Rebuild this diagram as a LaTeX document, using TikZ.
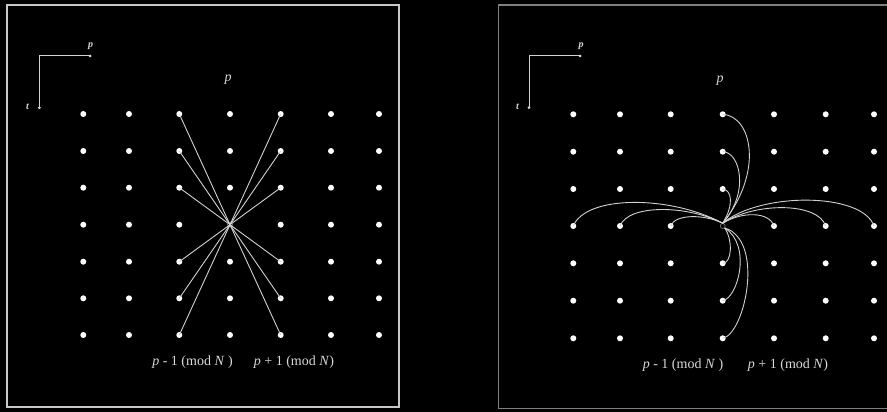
\documentclass[tikz,border=0pt]{standalone}
\usepackage{fontspec}
\setmainfont{Liberation Serif}
\begin{document}
\begin{tikzpicture}[x=1pt,y=-1pt,
  dot/.style={circle,fill=white,inner sep=0pt,minimum size=6pt},
  ctr/.style={circle,draw=gray,fill=black,inner sep=0pt,minimum size=5pt,line width=0.6pt},
  tipdot/.style={circle,fill=white!85!black,inner sep=0pt,minimum size=3pt},
  ray/.style={draw=white!82!black,line width=0.9pt},
  axis/.style={draw=white!82!black,line width=1pt},
  lab/.style={text=white!85!black,font=\fontsize{14}{16}\selectfont,inner sep=0pt},
  axlab/.style={text=white!85!black,font=\fontsize{10}{12}\selectfont\bfseries\itshape,inner sep=0pt}]
\useasboundingbox (0,0) rectangle (887,412);
\fill[black] (0,0) rectangle (887,412);
% panel frames
\draw[draw=white!78!black,line width=1.6pt] (7,5) rectangle (399,407);
\draw[draw=white!50!black,line width=1.6pt] (890,5) -- (498.3,5) -- (498.3,408.5) -- (890,408.5);
% ---------- left panel ----------
\foreach \x [count=\i] in {83.3,129,179.3,230,280.7,331,379}{
  \foreach \y [count=\j] in {114,151,187.7,224.7,261.7,298.3,335}{
    \ifnum\i\j=44
      \node[ctr] (L-\i-\j) at (\x,\y) {};
    \else
      \node[dot] (L-\i-\j) at (\x,\y) {};
    \fi
  }
}
\foreach \j in {1,2,3,5,6,7}{
  \draw[ray] (L-3-\j.center) -- (L-4-4.center);
  \draw[ray] (L-5-\j.center) -- (L-4-4.center);
}
\coordinate (Lo) at (39.3,56);
\node[tipdot] (Lp) at (90,56) {};
\node[tipdot] (Lt) at (39.3,107.7) {};
\draw[axis] (Lp.center) -- (Lo) -- (Lt.center);
\node[axlab] (Lpl) at (90.5,46.5) {p};
\node[axlab] (Ltl) at (27.5,106.5) {t};
\node[lab] (Ltop) at (228,80) {\textit{p}};
\node[lab] (Lm) at (192.5,362) {\textit{p} - 1 (mod \textit{N} )};
\node[lab] (Lpl1) at (294,362) {\textit{p} + 1 (mod \textit{N})};
% ---------- right panel ----------
\foreach \x [count=\i] in {573.3,620,670.7,722.7,774,825.7,874}{
  \foreach \y [count=\j] in {114.3,151.7,189,226,263.3,300.7,338.3}{
    \ifnum\i\j=44
      \node[ctr] (R-\i-\j) at (\x,\y) {};
    \else
      \node[dot] (R-\i-\j) at (\x,\y) {};
    \fi
  }
}
% vertical, upper
\draw[ray] (R-4-1.center) .. controls (752,116) and (764,172) .. (R-4-4.north);
\draw[ray] (R-4-2.center) .. controls (740,152) and (750,192) .. (R-4-4.north);
\draw[ray] (R-4-3.center) .. controls (732,190) and (734,205) .. (R-4-4.north);
% vertical, lower
\draw[ray] (R-4-5.center) .. controls (732,263) and (733,240) .. (R-4-4.south east);
\draw[ray] (R-4-6.center) .. controls (738,298) and (752,245) .. (R-4-4.south east);
\draw[ray] (R-4-7.center) .. controls (745,334) and (765,240) .. (R-4-4.south east);
% horizontal, left
\draw[ray] (R-1-4.center) .. controls (586,195) and (670,195) .. (R-4-4.north);
\draw[ray] (R-2-4.center) .. controls (628,204.5) and (686,204.5) .. (R-4-4.north);
\draw[ray] (R-3-4.center) .. controls (675,214) and (704,214) .. (R-4-4.north);
% horizontal, right
\draw[ray] (R-4-4.north) .. controls (742,211.4) and (769,211.4) .. (R-5-4.center);
\draw[ray] (R-4-4.north) .. controls (755,202) and (818,202) .. (R-6-4.center);
\draw[ray] (R-4-4.north) .. controls (760,192) and (862,192) .. (R-7-4.center);
\coordinate (Ro) at (529,56);
\node[tipdot] (Rp) at (580,56) {};
\node[tipdot] (Rt) at (529,107.7) {};
\draw[axis] (Rp.center) -- (Ro) -- (Rt.center);
\node[axlab] (Rpl) at (581,46.5) {p};
\node[axlab] (Rtl) at (517.5,106.5) {t};
\node[lab] (Rtop) at (720,80.5) {\textit{p}};
\node[lab] (Rm) at (683,365.5) {\textit{p} - 1 (mod \textit{N} )};
\node[lab] (Rpl1) at (788,365.5) {\textit{p} + 1 (mod \textit{N})};
\end{tikzpicture}
\end{document}
